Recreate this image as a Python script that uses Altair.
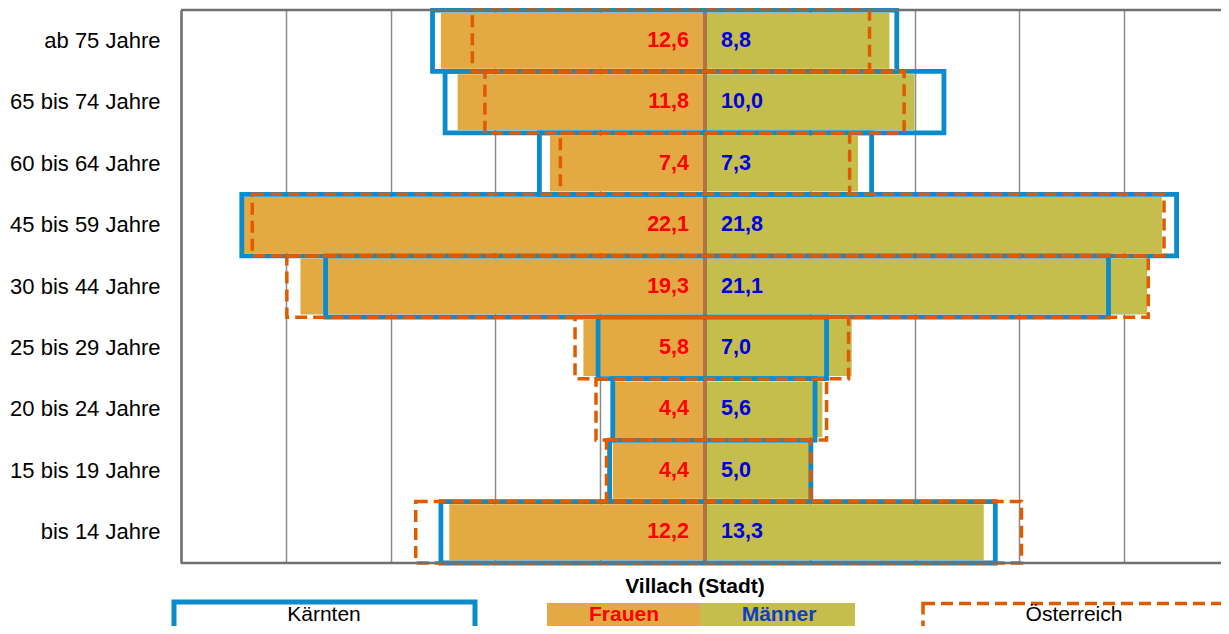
import altair as alt
import pandas as pd

categories = ["ab 75 Jahre", "65 bis 74 Jahre", "60 bis 64 Jahre", "45 bis 59 Jahre",
              "30 bis 44 Jahre", "25 bis 29 Jahre", "20 bis 24 Jahre", "15 bis 19 Jahre",
              "bis 14 Jahre"]
frauen = [12.6, 11.8, 7.4, 22.1, 19.3, 5.8, 4.4, 4.4, 12.2]
maenner = [8.8, 10.0, 7.3, 21.8, 21.1, 7.0, 5.6, 5.0, 13.3]
kaernten_f = [13.0, 12.4, 7.9, 22.1, 18.1, 5.1, 4.4, 4.55, 12.6]
kaernten_m = [9.15, 11.4, 7.95, 22.5, 19.25, 5.8, 5.25, 5.05, 13.85]
oesterreich_f = [11.1, 10.5, 6.9, 21.6, 19.95, 6.2, 5.2, 4.7, 13.8]
oesterreich_m = [7.85, 9.5, 6.9, 21.9, 21.15, 6.85, 5.8, 5.05, 15.1]

legend_title = "Villach (Stadt)"
legend_labels = ["Kärnten", "Frauen", "Männer", "Österreich"]
grid_values = [-25, -20, -15, -10, -5, 0, 5, 10, 15, 20]

def fmt(v):
    return f"{v:.1f}".replace(".", ",")

df = pd.DataFrame({
    "cat": categories,
    "f_neg": [-v for v in frauen],
    "m": maenner,
    "f_lab": [fmt(v) for v in frauen],
    "m_lab": [fmt(v) for v in maenner],
    "kf": [-v for v in kaernten_f],
    "km": kaernten_m,
    "of": [-v for v in oesterreich_f],
    "om": oesterreich_m,
})

W = 1040
H = 553
FONT = "Liberation Sans"
C_FRAUEN = "#e3a942"
C_MAENNER = "#c6be4c"
C_BLUE = "#0a8ccc"
C_ORANGE = "#e05a00"

xscale = alt.Scale(domain=[-25, 25 - (1048 - W) / 21.0], nice=False, zero=False)
yenc = alt.Y("cat:N", sort=categories,
             scale=alt.Scale(paddingInner=0, paddingOuter=0),
             axis=alt.Axis(title=None, labelFontSize=22, labelFont=FONT, labelColor="black",
                           ticks=False, domain=True, domainColor="#707070", domainWidth=2.5,
                           labelPadding=21, labelLimit=0))
xaxis = alt.Axis(values=grid_values, grid=True, gridColor="#8c8c8c", gridWidth=1.5,
                 labels=False, ticks=False, domain=False, title=None)

base = alt.Chart(df)

bars_f = base.mark_bar(height={"band": 0.91}, color=C_FRAUEN).encode(
    x=alt.X("f_neg:Q", scale=xscale, axis=xaxis), x2=alt.datum(0), y=yenc)
bars_m = base.mark_bar(height={"band": 0.91}, color=C_MAENNER).encode(
    x=alt.X("m:Q", scale=xscale), x2=alt.datum(0), y=alt.Y("cat:N", sort=categories))

center = base.mark_rule(color="#b07448", strokeWidth=3).encode(x=alt.datum(0))

box_k = base.mark_rect(fillOpacity=0, stroke=C_BLUE, strokeWidth=4.8).encode(
    x=alt.X("kf:Q", scale=xscale), x2="km:Q", y=alt.Y("cat:N", sort=categories))
box_o = base.mark_rect(fillOpacity=0, stroke=C_ORANGE, strokeWidth=3.5,
                       strokeDash=[12, 6]).encode(
    x=alt.X("of:Q", scale=xscale), x2="om:Q", y=alt.Y("cat:N", sort=categories))

lab_f = base.mark_text(align="right", baseline="middle", dx=-16, font=FONT, fontSize=21.5,
                       fontWeight="bold", color="#ff0000").encode(
    x=alt.datum(0), y=alt.Y("cat:N", sort=categories), text="f_lab:N")
lab_m = base.mark_text(align="left", baseline="middle", dx=16, font=FONT, fontSize=21.5,
                       fontWeight="bold", color="#0000dd").encode(
    x=alt.datum(0), y=alt.Y("cat:N", sort=categories), text="m_lab:N")

one = pd.DataFrame({"a": [0]})
lg = alt.Chart(one)
top_rule = lg.mark_rule(color="#707070", strokeWidth=2.5).encode(y=alt.value(0))
bot_rule = lg.mark_rule(color="#707070", strokeWidth=2.5).encode(y=alt.value(H))

LEG_BASE = 611
leg_title = lg.mark_text(text=legend_title, font=FONT, fontSize=21, fontWeight="bold",
                         color="black", baseline="middle").encode(
    x=alt.value(514), y=alt.value(577))
leg_k = lg.mark_rect(fillOpacity=0, stroke=C_BLUE, strokeWidth=5).encode(
    x=alt.value(-7), x2=alt.value(294), y=alt.value(592), y2=alt.value(640))
leg_k_t = lg.mark_text(text=legend_labels[0], font=FONT, fontSize=21, color="black",
                       baseline="alphabetic").encode(x=alt.value(143), y=alt.value(LEG_BASE))
leg_f = lg.mark_rect(color=C_FRAUEN).encode(
    x=alt.value(366), x2=alt.value(519), y=alt.value(593), y2=alt.value(640))
leg_m = lg.mark_rect(color=C_MAENNER).encode(
    x=alt.value(519), x2=alt.value(674), y=alt.value(593), y2=alt.value(640))
leg_f_t = lg.mark_text(text=legend_labels[1], font=FONT, fontSize=21, fontWeight="bold",
                       color="#ff0000", baseline="alphabetic").encode(
    x=alt.value(443), y=alt.value(LEG_BASE))
leg_m_t = lg.mark_text(text=legend_labels[2], font=FONT, fontSize=21, fontWeight="bold",
                       color="#1040c0", baseline="alphabetic").encode(
    x=alt.value(598), y=alt.value(LEG_BASE))
leg_o = lg.mark_rect(fillOpacity=0, stroke=C_ORANGE, strokeWidth=3.5,
                     strokeDash=[12, 6]).encode(
    x=alt.value(742), x2=alt.value(1043), y=alt.value(593.5), y2=alt.value(640))
leg_o_t = lg.mark_text(text=legend_labels[3], font=FONT, fontSize=21, color="black",
                       baseline="alphabetic").encode(x=alt.value(893), y=alt.value(LEG_BASE))

chart = alt.layer(
    bars_f, bars_m, center, box_k, box_o, lab_f, lab_m,
    top_rule, bot_rule,
    leg_title, leg_k, leg_k_t, leg_f, leg_m, leg_f_t, leg_m_t, leg_o, leg_o_t,
).properties(
    width=W, height=H,
    padding={"left": 173, "top": 2, "right": 0, "bottom": 63},
    autosize=alt.AutoSizeParams(type="none"),
).configure_view(stroke=None, strokeWidth=0).configure(background="white")

chart.save("out.html", embed_options={"renderer": "svg", "actions": False})
